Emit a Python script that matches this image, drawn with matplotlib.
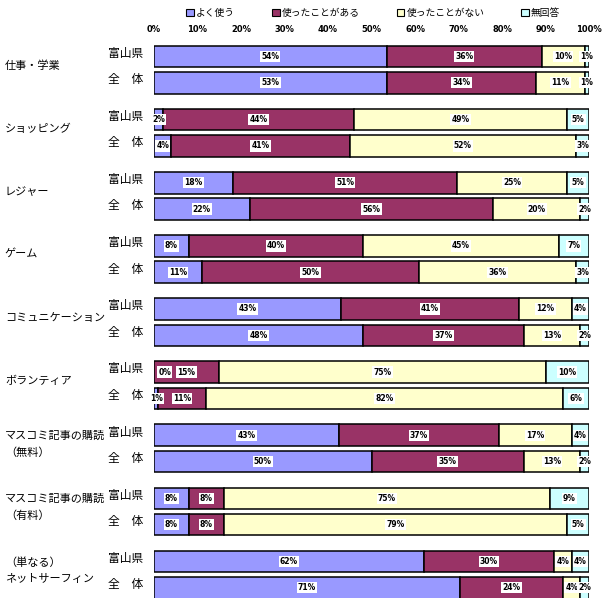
import matplotlib
matplotlib.use("Agg")
import matplotlib.pyplot as plt
import matplotlib.transforms as mtransforms
from matplotlib.patches import Patch
import numpy as np

plt.rcParams["font.family"] = ["Noto Sans CJK JP", "DejaVu Sans"]

CATEGORIES = ["仕事・学業", "ショッピング", "レジャー", "ゲーム", "コミュニケーション",
              "ボランティア", "マスコミ記事の購読\n（無料）", "マスコミ記事の購読\n（有料）",
              "（単なる）\nネットサーフィン"]
ROWS = ["富山県", "全　体"]
SERIES = ["よく使う", "使ったことがある", "使ったことがない", "無回答"]
COLORS = ["#9999FF", "#993366", "#FFFFCC", "#CCFFFF"]

# [富山県, 全体] per category, values in %
yoku = [[54, 53], [2, 4], [18, 22], [8, 11], [43, 48], [0, 1], [43, 50], [8, 8], [62, 71]]
aru = [[36, 34], [44, 41], [51, 56], [40, 50], [41, 37], [15, 11], [37, 35], [8, 8], [30, 24]]
nai = [[10, 11], [49, 52], [25, 20], [45, 36], [12, 13], [75, 82], [17, 13], [75, 79], [4, 4]]
mukaitou = [[1, 1], [5, 3], [5, 2], [7, 3], [4, 2], [10, 6], [4, 2], [9, 5], [4, 2]]

data = np.array([yoku, aru, nai, mukaitou], dtype=float)  # series x cat x row

fig = plt.figure(figsize=(6.13, 6.08), dpi=100)
ax = fig.add_axes([154 / 613, 0.016, 435 / 613, 0.933 - 0.016])

PITCH = 2.4
H = 0.82
trans_cat = mtransforms.blended_transform_factory(fig.transFigure, ax.transData)
trans_row = mtransforms.blended_transform_factory(ax.transAxes, ax.transData)

for i, cat in enumerate(CATEGORIES):
    for j, row in enumerate(ROWS):
        y = i * PITCH + j
        vals = data[:, i, j]
        widths = vals / vals.sum() * 100
        left = 0.0
        for k in range(4):
            ax.barh(y, widths[k], left=left, height=H, color=COLORS[k],
                    edgecolor="black", linewidth=1.1)
            xc = left + widths[k] / 2
            if vals[k] < 0.5:
                xc = left + 2.5
            ax.text(xc, y, f"{vals[k]:.0f}%", ha="center", va="center",
                    fontsize=5.5, fontweight="bold", family="DejaVu Sans",
                    bbox=dict(facecolor="white", edgecolor="none", pad=0.8))
            left += widths[k]
        ax.text(-0.106, y - 0.12, row, transform=trans_row,
                ha="left", va="center", fontsize=8.5)
    ax.text(0.008, i * PITCH + 0.35, cat, transform=trans_cat, ha="left", va="center",
            fontsize=8, linespacing=1.75)

ax.set_xlim(0, 100)
ax.set_ylim(8 * PITCH + 1.4, -0.6)
ax.xaxis.tick_top()
ax.set_xticks(np.arange(0, 101, 10))
ax.set_xticklabels([f"{v}%" for v in range(0, 101, 10)], fontsize=6,
                   fontweight="bold", family="DejaVu Sans")
ax.tick_params(axis="x", length=0, pad=5)
ax.set_yticks([])
for s in ax.spines.values():
    s.set_visible(False)

handles = [Patch(facecolor=c, edgecolor="black", linewidth=0.8) for c in COLORS]
fig.legend(handles, SERIES, loc="center", bbox_to_anchor=(0.609, 0.979), ncol=4,
           frameon=False, fontsize=7, handlelength=0.8, handleheight=0.8,
           handletextpad=0.2, columnspacing=3.8)

fig.savefig("out.png", dpi=100)
